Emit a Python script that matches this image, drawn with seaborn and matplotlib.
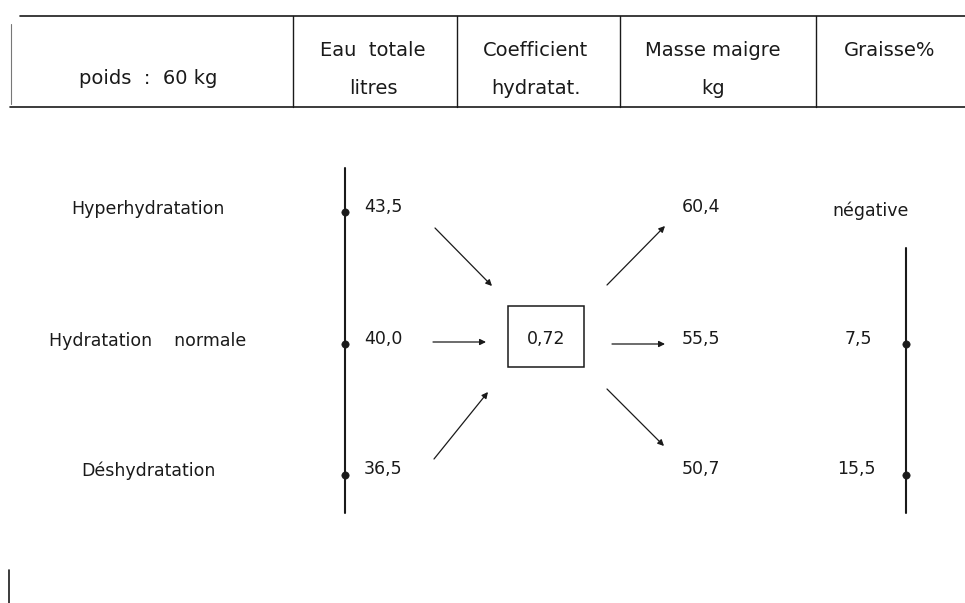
import matplotlib
matplotlib.use("Agg")
import matplotlib.pyplot as plt
import seaborn as sns
import pandas as pd
from matplotlib.patches import Rectangle

sns.set_theme(style="white")
plt.rcParams['font.family'] = ['DejaVu Sans']

# ---- data ----
header_weight = "poids  :  60 kg"
header_cols = ["Eau  totale\nlitres", "Coefficient\nhydratat.", "Masse maigre\nkg", "Graisse%"]
states = ["Hyperhydratation", "Hydratation    normale", "Déshydratation"]
eau_totale = ["43,5", "40,0", "36,5"]
coefficient = "0,72"
masse_maigre = ["60,4", "55,5", "50,7"]
graisse = ["négative", "7,5", "15,5"]

# ---- layout (pixel-like coordinates) ----
W, H = 965, 603
fig = plt.figure(figsize=(W / 100, H / 100), dpi=100)
ax = fig.add_axes([0, 0, 1, 1])
ax.set_xlim(0, W)
ax.set_ylim(H, 0)
ax.axis("off")

ink = "#1a1a1a"
fs = 12.5
hfs = 14

# header table
ax.plot([20, 965], [16, 16], color=ink, lw=1.2)
ax.plot([10, 965], [107, 107], color=ink, lw=1.2)
ax.plot([11, 11], [24, 104], color="#777777", lw=0.8)
dividers = [293, 457, 620, 816]
for x in dividers:
    ax.plot([x, x], [16, 107], color=ink, lw=1.0)
ax.text(148, 78, header_weight, ha="center", va="center", fontsize=hfs, color=ink)
col_centers = [373, 536, 713, 890]
for cx, lab in zip(col_centers, header_cols):
    lines = lab.split("\n")
    ax.text(cx, 50, lines[0], ha="center", va="center", fontsize=hfs, color=ink)
    if len(lines) > 1:
        ax.text(cx, 88, lines[1], ha="center", va="center", fontsize=hfs, color=ink)

row_y = [209, 341, 471]

# row labels
for y, s in zip(row_y, states):
    ax.text(148, y, s, ha="center", va="center", fontsize=fs, color=ink)

# left vertical axis
ax.plot([345, 345], [168, 513], color=ink, lw=1.5)
# right vertical axis
ax.plot([906, 906], [248, 513], color=ink, lw=1.5)

dots = pd.DataFrame({
    "x": [345, 345, 345, 906, 906],
    "y": [212, 344, 475, 344, 475],
})
sns.scatterplot(data=dots, x="x", y="y", ax=ax, color=ink, s=28, edgecolor=ink, legend=False, zorder=5)
ax.set_xlim(0, W)
ax.set_ylim(H, 0)
ax.axis("off")

# eau totale values
for y, v in zip(row_y, eau_totale):
    ax.text(364, y - 2, v, ha="left", va="center", fontsize=fs, color=ink)

# coefficient box
ax.add_patch(Rectangle((508, 306), 76, 61, fill=False, edgecolor=ink, lw=1.1))
ax.text(546, 339, coefficient, ha="center", va="center", fontsize=fs, color=ink)

# arrows into box
ap = dict(arrowstyle="-|>", color=ink, lw=0.9, mutation_scale=9, shrinkA=0, shrinkB=0)
ax.annotate("", xy=(492, 286), xytext=(435, 228), arrowprops=ap)
ax.annotate("", xy=(486, 342), xytext=(433, 342), arrowprops=ap)
ax.annotate("", xy=(488, 392), xytext=(434, 459), arrowprops=ap)
# arrows out of box
ax.annotate("", xy=(665, 226), xytext=(607, 285), arrowprops=ap)
ax.annotate("", xy=(665, 344), xytext=(612, 344), arrowprops=ap)
ax.annotate("", xy=(664, 446), xytext=(607, 389), arrowprops=ap)

# masse maigre values
for y, v in zip(row_y, masse_maigre):
    ax.text(682, y - 2, v, ha="left", va="center", fontsize=fs, color=ink)

# graisse values
ax.text(871, 211, graisse[0], ha="center", va="center", fontsize=fs, color=ink)
ax.text(872, row_y[1] - 2, graisse[1], ha="right", va="center", fontsize=fs, color=ink)
ax.text(876, row_y[2] - 2, graisse[2], ha="right", va="center", fontsize=fs, color=ink)

# bottom-left mark
ax.plot([9, 9], [570, 603], color=ink, lw=1.2)

fig.savefig("out.png", dpi=100, facecolor="white")
